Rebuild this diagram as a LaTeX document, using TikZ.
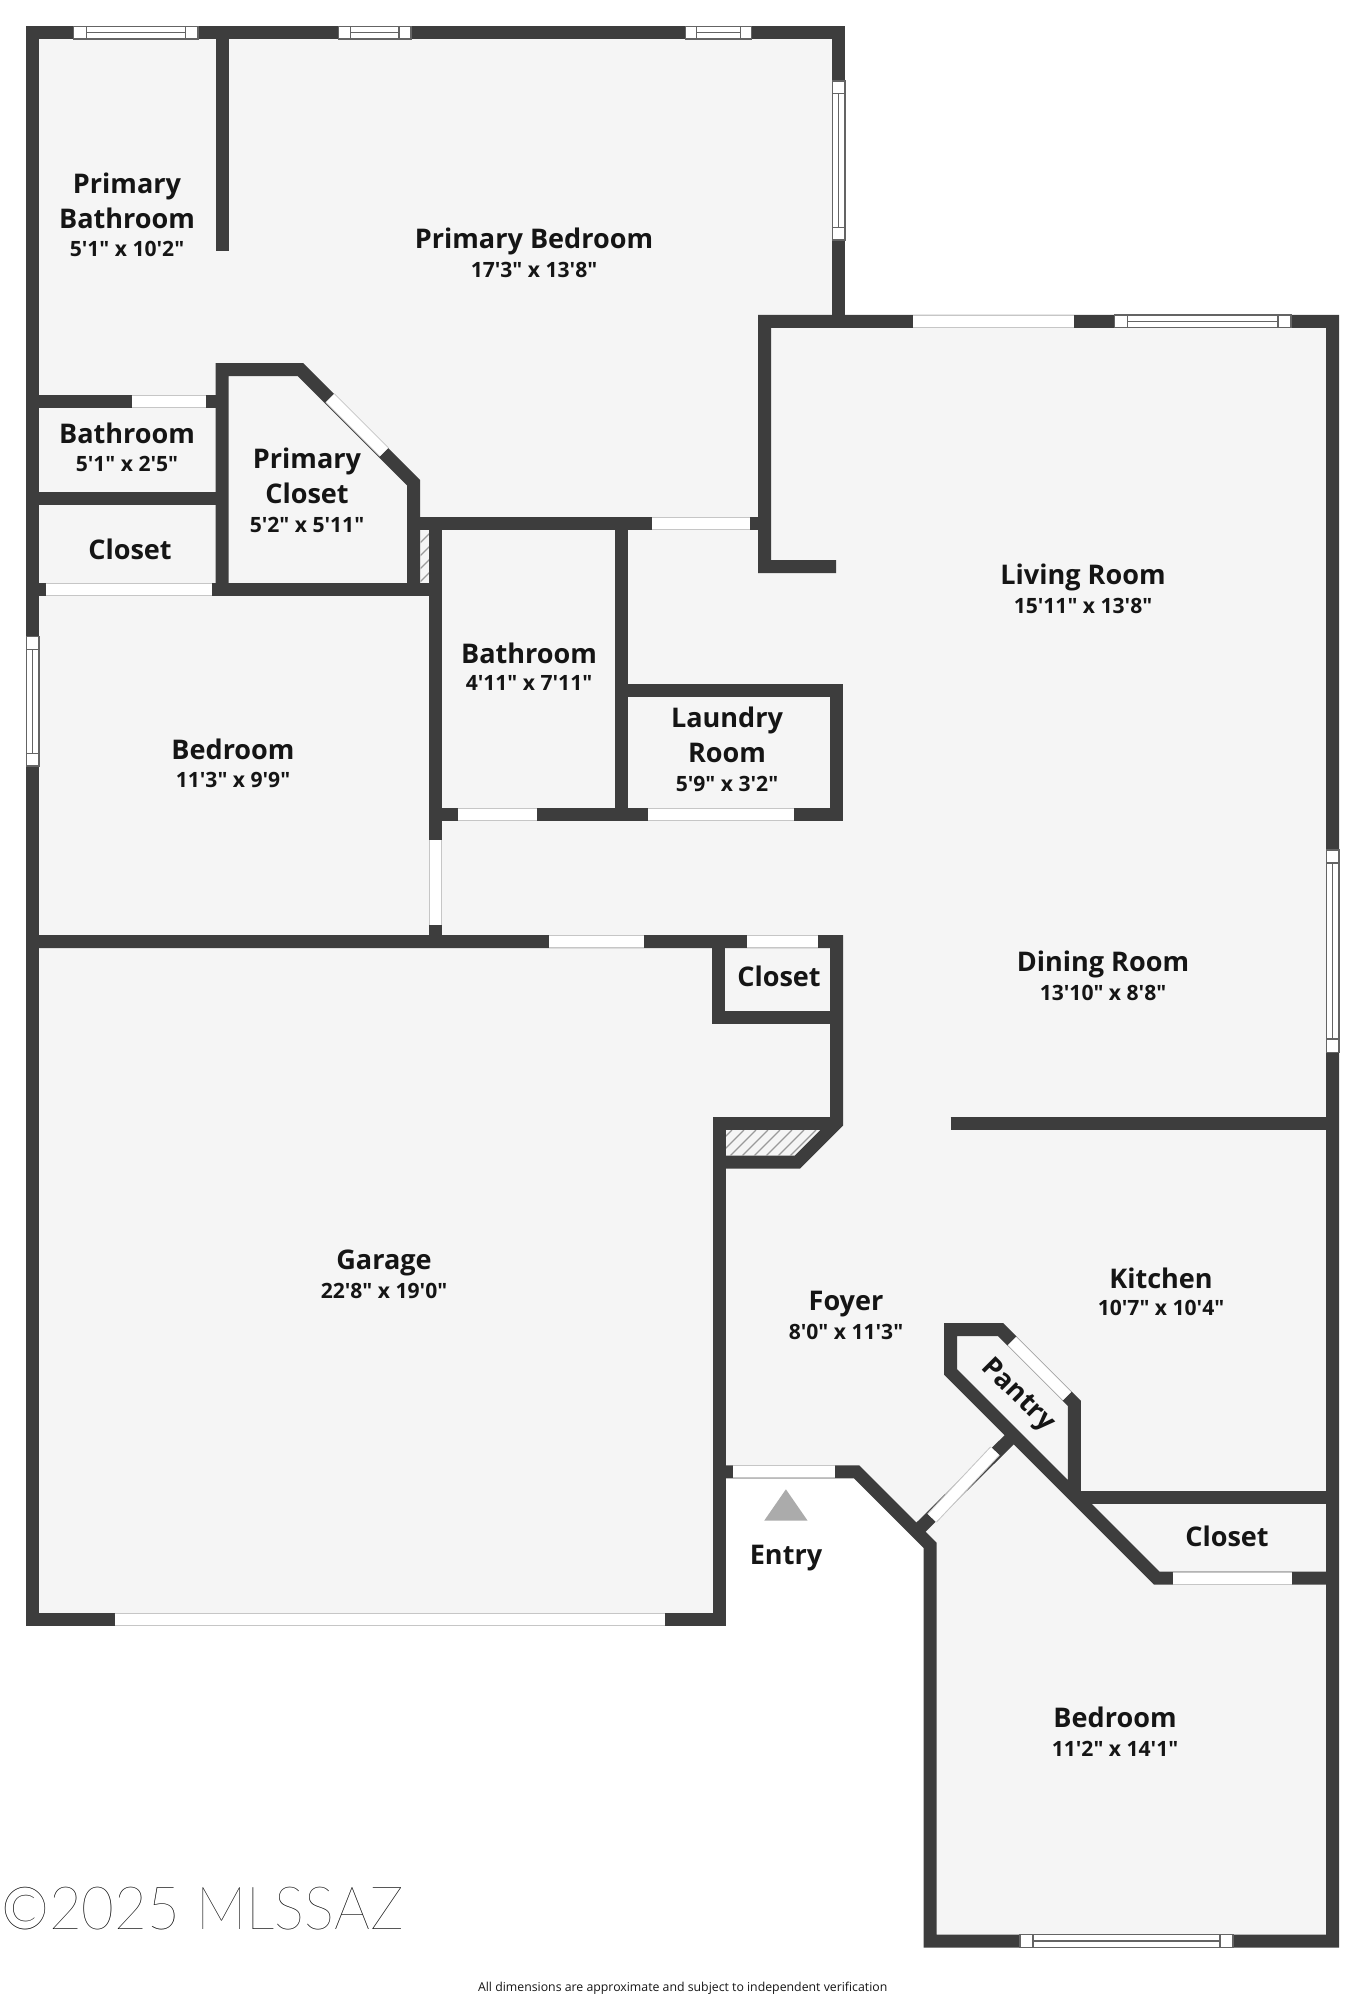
\documentclass[tikz,border=0pt]{standalone}
\usepackage{fontspec}
\usepackage{xcolor}
\setmainfont{Open Sans}[Ligatures=TeXOff]
\newfontfamily\markfont{Lato Hairline}
\usetikzlibrary{calc}

\definecolor{wallgray}{HTML}{3D3D3D}
\definecolor{floorgray}{HTML}{F5F5F5}
\definecolor{edgegray}{HTML}{C6C6C6}
\definecolor{hatchgray}{HTML}{9A9A9A}
\definecolor{labelblack}{HTML}{151515}

\tikzset{
	wall/.style={draw=wallgray, line width=0.26cm, line join=miter, miter limit=10},
	gapedge/.style={draw=edgegray, line width=0.26cm},
	gapfill/.style={draw=white, line width=0.22cm},
	windowline/.style={draw=wallgray!80, line width=0.028cm},
	hatchline/.style={draw=hatchgray, line width=0.025cm},
	roomname/.style={font=\bfseries\fontsize{15.4}{19.8}\selectfont, text=labelblack, align=center, inner sep=0pt},
	roomsize/.style={font=\bfseries\fontsize{12}{14}\selectfont, text=labelblack, align=center, inner sep=0pt}
}

\begin{document}
\begin{tikzpicture}[x=0.02cm,y=-0.02cm]
	\useasboundingbox (0,0) rectangle (1365,2000);

	\coordinate (top left corner) at (32.7,32.6);
	\coordinate (top right corner) at (838.5,32.6);
	\coordinate (bedroom notch) at (838.5,321.3);
	\coordinate (living right corner) at (1332.5,321.3);
	\coordinate (far right corner) at (1332.5,1941);
	\coordinate (far left corner) at (930,1941);
	\coordinate (entry corner) at (930,1545.3);
	\coordinate (entry top) at (856.6,1471.9);
	\coordinate (entry left) at (719,1471.9);
	\coordinate (garage right corner) at (719,1619);
	\coordinate (garage left corner) at (32.7,1619);

	\fill [floorgray] (top left corner) -- (top right corner) -- (bedroom notch) -- (living right corner) -- (far right corner) -- (far left corner) -- (entry corner) -- (entry top) -- (entry left) -- (garage right corner) -- (garage left corner) -- cycle;

	\begin{scope}
		\clip (420.7,530.7) rectangle (430,583.3);
		\foreach \s in {950,963,...,1030}
			\draw [hatchline] (\s-530,530) -- (\s-590,590);
	\end{scope}
	\begin{scope}
		\clip (725.6,1130) -- (819.6,1130) -- (794.9,1155.4) -- (725.6,1155.4) -- cycle;
		\foreach \s in {1850,1862,...,1990}
			\draw [hatchline] (\s-1130,1130) -- (\s-1160,1160);
	\end{scope}

	\begin{scope}
		\draw [wall] (bedroom notch) -- (top right corner) -- (top left corner) -- (garage left corner) -- (garage right corner) -- (719,1123.7) -- (836.7,1123.7);
		\draw [wall] (836,566.7) -- (764.5,566.7) -- (764.5,321.3) -- (living right corner) -- (far right corner) -- (far left corner) -- (entry corner) -- (entry top) -- (entry left);
		\draw [wall] (32.7,941.7) -- (836.7,941.7) -- (836.7,1122.8) -- (797.5,1162) -- (719,1162);
		\draw [wall] (718,941.7) -- (718,1017.8) -- (836.7,1017.8);
		\draw [wall] (222,32.6) -- (222,250.7);
		\draw [wall] (32.7,401.3) -- (222,401.3);
		\draw [wall] (32.7,498) -- (222,498);
		\draw [wall] (32.7,589.7) -- (435.8,589.7);
		\draw [wall] (222,589.7) -- (222,369.7) -- (300.6,369.7) -- (413.6,482.7) -- (413.6,589.7);
		\draw [wall] (413.6,523.8) -- (764.5,523.8);
		\draw [wall] (435.8,523.8) -- (435.8,941.7);
		\draw [wall] (621.2,523.8) -- (621.2,814);
		\draw [wall] (621.2,690.7) -- (836.5,690.7) -- (836.5,814) -- (435.8,814);
		\draw [wall] (950.5,1123.5) -- (1332.5,1123.5);
		\draw [wall] (1074.3,1497.5) -- (1074.3,1403.3) -- (1000.5,1329.5) -- (950.5,1329.5) -- (950.5,1371.9) -- (1156.6,1578) -- (1332.5,1578);
		\draw [wall] (1074.3,1497.5) -- (1332.5,1497.5);
		\draw [wall] (916.4,1531.7) -- (1013.8,1435.2);
	\end{scope}

	\foreach \xa/\ya/\xb/\yb in {
		131.7/401.3/205.7/401.3, 45.7/589.7/212/589.7, 652.3/523.8/750/523.8,
		457.7/814/536.7/814, 648/814/793.7/814, 549.3/941.7/643.7/941.7,
		747.3/941.7/817.7/941.7, 913.4/321.3/1073.9/321.3, 733.3/1471.9/835.4/1471.9,
		1172.6/1578/1291.7/1578, 114.6/1619/664.6/1619, 435.8/840/435.8/925,
		330/398/384/452, 1012/1341/1067/1396, 932/1518/995/1451
	} {
		\draw [gapedge] (\xa,\ya) -- (\xb,\yb);
		\draw [gapfill] (\xa,\ya) -- (\xb,\yb);
	}

	\foreach \xa/\xb/\xc/\xd/\y in {
		73.5/198/86.7/185.4/32.6, 338.5/411/350.5/398.8/32.6, 685.7/751.5/696.6/740.5/32.6,
		1114.2/1290.8/1127.4/1278/321.3, 1020/1233/1033/1220/1941
	} {
		\draw [windowline, fill=white] (\xa,\y-6.3) rectangle (\xb,\y+6.3);
		\draw [windowline] (\xc,\y-6.3) rectangle (\xd,\y+6.3);
		\draw [windowline] (\xc,\y) -- (\xd,\y);
	}
	\foreach \ya/\yb/\yc/\yd/\x in {
		81/240/93.7/227.4/838.5, 636.7/766/649.3/753.3/32.7, 850/1052.7/863/1039/1332.5
	} {
		\draw [windowline, fill=white] (\x-6.3,\ya) rectangle (\x+6.3,\yb);
		\draw [windowline] (\x-6.3,\yc) rectangle (\x+6.3,\yd);
		\draw [windowline] (\x,\yc) -- (\x,\yd);
	}

	\fill [black!33] (764.3,1520.5) -- (807.5,1520.5) -- (785.9,1489.3) -- cycle;

	\node [roomname] (primary bath name) at (127,201) {Primary\\Bathroom};
	\node [roomsize] (primary bath size) at (127,249) {5'1" x 10'2"};
	\node [roomname] (primary bedroom name) at (534,241.5) {Primary Bedroom};
	\node [roomsize] (primary bedroom size) at (534,270) {17'3" x 13'8"};
	\node [roomname] (hall bath name) at (127,433) {Bathroom};
	\node [roomsize] (hall bath size) at (127,464) {5'1" x 2'5"};
	\node [roomname] (primary closet name) at (307,476) {Primary\\Closet};
	\node [roomsize] (primary closet size) at (307,525) {5'2" x 5'11"};
	\node [roomname] (linen closet name) at (130,549) {Closet};
	\node [roomname] (front bedroom name) at (233,749) {Bedroom};
	\node [roomsize] (front bedroom size) at (233,780) {11'3" x 9'9"};
	\node [roomname] (main bath name) at (529,653) {Bathroom};
	\node [roomsize] (main bath size) at (529,683) {4'11" x 7'11"};
	\node [roomname] (laundry name) at (727,735) {Laundry\\Room};
	\node [roomsize] (laundry size) at (727,784) {5'9" x 3'2"};
	\node [roomname] (living name) at (1083,577.5) {Living Room};
	\node [roomsize] (living size) at (1083,606) {15'11" x 13'8"};
	\node [roomname] (dining name) at (1103,964.5) {Dining Room};
	\node [roomsize] (dining size) at (1103,993) {13'10" x 8'8"};
	\node [roomname] (coat closet name) at (779,976) {Closet};
	\node [roomname] (garage name) at (384,1263) {Garage};
	\node [roomsize] (garage size) at (384,1291) {22'8" x 19'0"};
	\node [roomname] (kitchen name) at (1161,1278) {Kitchen};
	\node [roomsize] (kitchen size) at (1161,1308) {10'7" x 10'4"};
	\node [roomname] (foyer name) at (846,1304.5) {Foyer};
	\node [roomsize] (foyer size) at (846,1332) {8'0" x 11'3"};
	\node [roomname, rotate=-45] (pantry name) at (1017.5,1395.5) {Pantry};
	\node [roomname] (back closet name) at (1227,1536) {Closet};
	\node [roomname] (entry name) at (786,1558.5) {Entry};
	\node [roomname] (back bedroom name) at (1115,1717) {Bedroom};
	\node [roomsize] (back bedroom size) at (1115,1749) {11'2" x 14'1"};

	\node [inner sep=0pt, anchor=west, font=\markfont\fontsize{34}{40}\selectfont, xscale=0.945, yshift=-1pt] (mark) at (1,1907) {©2025 MLSSAZ};
	\node [inner sep=0pt, font=\fontsize{7}{9}\selectfont, text=labelblack] (note) at (682.7,1988) {All dimensions are approximate and subject to independent verification};
\end{tikzpicture}
\end{document}
